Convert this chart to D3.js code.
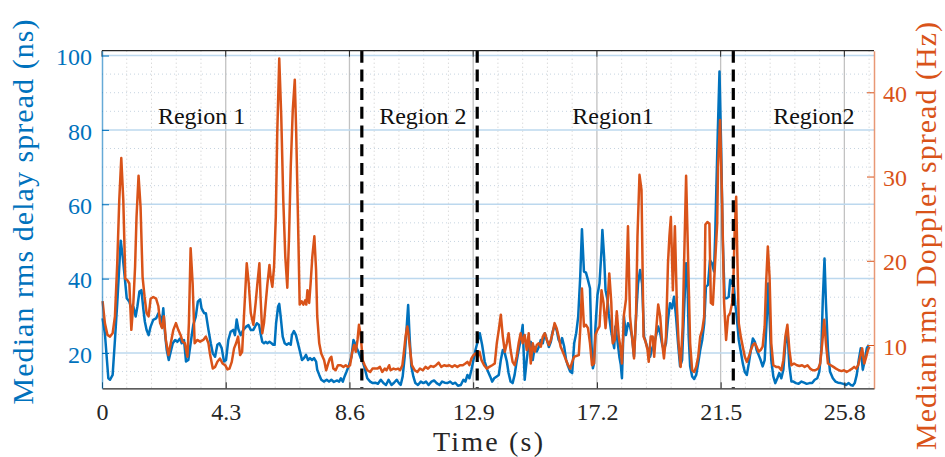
<!DOCTYPE html>
<html>
<head>
<meta charset="utf-8">
<script src="https://cdn.jsdelivr.net/npm/d3@7.9.0/dist/d3.min.js"></script>
<style>
  body { margin: 0; background: #fff; }
  svg { display: block; }
  text { font-family: "Liberation Serif", "Times New Roman", serif; }
</style>
</head>
<body>
<svg id="chart" width="945" height="457"></svg>
<script>
// Axis ticks
const xTicks = [0, 4.3, 8.6, 12.9, 17.2, 21.5, 25.8];
const delayTicks = [20, 40, 60, 80, 100];
const dopplerTicks = [10, 20, 30, 40];

// Region boundaries (s) and labels
const regionBounds = [9.03, 13.04, 21.94];
const regionNames = ['Region 1', 'Region 2', 'Region1', 'Region2'];
const regionCenters = [3.46, 11.15, 17.76, 24.74];

// Median rms delay spread (ns) vs time (s)
const delaySpread = [
  [0.02,29.3],[0.10,25.3],[0.22,13.2],[0.28,12.8],[0.37,14.1],[0.45,23.5],[0.53,33.4],[0.65,50.2],[0.72,45.9],[0.80,39.6],
  [0.86,34.7],[0.95,33.8],[1.03,31.6],[1.09,32.4],[1.17,29.8],[1.23,32.5],[1.30,36.5],[1.37,36.9],[1.44,31.6],[1.49,28.4],
  [1.55,26.2],[1.62,24.8],[1.69,27.1],[1.78,28.9],[1.88,29.3],[1.96,30.7],[2.02,29.8],[2.07,27.1],[2.13,32.0],[2.19,25.3],
  [2.25,20.8],[2.32,18.1],[2.39,20.4],[2.46,22.6],[2.54,23.5],[2.62,23.0],[2.71,23.9],[2.77,22.6],[2.85,23.5],[2.92,17.7],
  [3.00,18.1],[3.08,22.6],[3.17,27.5],[3.26,29.8],[3.33,33.8],[3.41,34.4],[3.46,32.0],[3.55,30.7],[3.61,30.7],[3.70,26.2],
  [3.78,22.6],[3.85,19.9],[3.93,19.0],[4.01,22.2],[4.08,22.6],[4.16,21.3],[4.24,17.7],[4.31,18.1],[4.39,23.5],[4.47,25.7],
  [4.56,26.2],[4.62,24.8],[4.68,29.0],[4.74,26.4],[4.82,24.8],[4.91,26.2],[5.01,27.1],[5.09,27.5],[5.17,26.2],[5.26,26.2],
  [5.38,28.0],[5.46,27.5],[5.51,25.3],[5.57,23.0],[5.63,22.6],[5.69,23.0],[5.75,22.6],[5.82,23.0],[5.89,22.6],[5.95,22.2],
  [6.00,22.2],[6.05,28.0],[6.12,32.5],[6.16,33.2],[6.21,29.8],[6.28,24.4],[6.35,22.6],[6.42,22.2],[6.49,22.6],[6.56,22.2],
  [6.60,24.8],[6.67,25.9],[6.74,24.8],[6.81,22.6],[6.88,20.4],[6.95,18.1],[7.02,18.6],[7.09,19.5],[7.16,18.1],[7.23,18.6],
  [7.30,18.1],[7.37,18.6],[7.44,17.7],[7.48,15.5],[7.55,14.1],[7.62,12.8],[7.72,12.3],[7.81,12.8],[7.89,12.3],[7.97,12.8],
  [8.06,12.2],[8.16,12.6],[8.24,12.3],[8.30,13.2],[8.37,12.3],[8.43,13.7],[8.50,15.0],[8.59,16.8],[8.67,19.0],[8.74,23.5],
  [8.79,22.6],[8.85,21.3],[8.91,20.4],[8.99,18.6],[9.06,17.7],[9.13,15.9],[9.22,13.2],[9.32,12.3],[9.41,11.9],[9.50,12.0],
  [9.59,11.7],[9.69,12.8],[9.78,11.9],[9.87,11.4],[9.96,12.8],[10.06,11.4],[10.15,12.0],[10.24,12.8],[10.32,11.9],[10.38,11.4],
  [10.45,13.7],[10.52,19.0],[10.59,27.1],[10.64,32.9],[10.69,24.4],[10.75,16.4],[10.82,13.7],[10.89,11.9],[10.98,11.4],[11.08,12.3],
  [11.17,11.9],[11.26,12.3],[11.35,11.4],[11.45,12.3],[11.54,12.6],[11.63,11.9],[11.73,11.4],[11.82,12.3],[11.91,12.0],[12.00,11.9],
  [12.10,12.3],[12.19,11.7],[12.28,12.0],[12.37,11.2],[12.47,11.4],[12.56,12.8],[12.63,12.3],[12.70,14.1],[12.77,13.2],[12.84,15.5],
  [12.91,18.1],[12.98,20.8],[13.13,25.3],[13.21,22.2],[13.30,17.7],[13.39,15.5],[13.49,13.7],[13.56,12.3],[13.63,13.2],[13.72,13.7],
  [13.79,14.1],[13.86,18.1],[13.93,20.8],[14.00,19.9],[14.07,17.7],[14.13,14.6],[14.20,12.3],[14.27,11.9],[14.34,14.1],[14.41,17.7],
  [14.48,20.8],[14.55,23.5],[14.62,27.5],[14.69,12.8],[14.76,18.1],[14.83,22.6],[14.90,23.0],[14.97,18.1],[15.04,21.6],[15.11,20.4],
  [15.18,21.6],[15.25,23.5],[15.32,22.6],[15.39,25.3],[15.46,23.5],[15.53,21.6],[15.60,23.0],[15.66,25.7],[15.73,27.5],[15.80,26.2],
  [15.87,23.5],[15.94,22.6],[15.99,24.0],[16.06,21.8],[16.13,18.1],[16.20,16.4],[16.27,15.0],[16.34,14.6],[16.41,22.6],[16.48,25.3],
  [16.55,29.8],[16.62,40.5],[16.68,53.3],[16.75,41.9],[16.82,41.6],[16.89,39.6],[16.96,37.4],[17.01,22.6],[17.06,15.9],[17.10,17.2],
  [17.15,27.1],[17.22,35.6],[17.29,38.7],[17.36,47.7],[17.39,53.1],[17.45,45.9],[17.50,36.9],[17.57,34.2],[17.61,30.7],[17.68,26.6],
  [17.75,23.5],[17.80,21.3],[17.84,27.1],[17.91,23.5],[17.98,19.0],[18.03,16.8],[18.07,13.2],[18.14,29.8],[18.21,24.8],[18.28,28.0],
  [18.35,27.1],[18.42,24.4],[18.49,19.0],[18.56,29.8],[18.63,38.7],[18.70,42.3],[18.77,38.7],[18.84,24.4],[18.91,22.6],[18.98,20.8],
  [19.05,19.0],[19.12,21.3],[19.19,22.6],[19.26,24.8],[19.33,27.1],[19.40,25.3],[19.47,22.2],[19.53,20.8],[19.60,22.6],[19.67,28.9],
  [19.74,33.4],[19.81,32.0],[19.88,35.1],[19.95,29.8],[20.02,22.6],[20.09,16.4],[20.16,18.1],[20.23,31.6],[20.30,44.1],[20.35,38.7],
  [20.39,24.4],[20.44,16.4],[20.51,13.7],[20.58,13.0],[20.65,14.1],[20.72,17.2],[20.79,20.8],[20.86,23.5],[20.93,28.0],[20.99,37.8],
  [21.06,38.3],[21.13,45.0],[21.20,44.1],[21.27,41.9],[21.31,51.3],[21.35,64.0],[21.40,79.1],[21.46,95.7],[21.52,74.6],[21.57,51.3],
  [21.64,34.7],[21.71,34.7],[21.78,35.1],[21.83,39.6],[21.87,38.7],[21.94,40.0],[22.01,33.0],[22.06,29.8],[22.13,23.5],[22.20,20.4],
  [22.27,17.2],[22.34,14.9],[22.41,14.1],[22.48,17.2],[22.55,20.8],[22.62,23.9],[22.69,23.0],[22.75,20.8],[22.82,19.5],[22.89,18.1],
  [22.96,16.4],[23.03,18.1],[23.10,28.9],[23.15,38.7],[23.20,29.8],[23.26,18.1],[23.33,13.7],[23.40,11.9],[23.47,13.2],[23.54,14.6],
  [23.61,13.2],[23.68,15.5],[23.75,22.6],[23.82,26.2],[23.89,16.4],[23.96,12.3],[24.03,12.3],[24.12,11.9],[24.21,11.7],[24.31,12.3],
  [24.40,12.0],[24.49,11.7],[24.59,11.9],[24.68,11.9],[24.77,12.8],[24.86,13.2],[24.93,15.0],[25.00,20.8],[25.05,34.2],[25.11,45.4],
  [25.16,33.4],[25.23,20.8],[25.30,15.0],[25.40,13.2],[25.49,12.3],[25.58,12.0],[25.67,11.9],[25.77,11.7],[25.86,11.4],[25.95,11.9],
  [26.02,11.4],[26.09,11.2],[26.16,11.9],[26.23,14.1],[26.30,18.1],[26.37,21.3],[26.44,15.5],[26.51,18.1],[26.58,21.3],[26.65,22.2]
];

// Median rms Doppler spread (Hz) vs time (s)
const dopplerSpread = [
  [0.02,15.2],[0.10,12.6],[0.19,11.2],[0.28,11.0],[0.37,11.4],[0.45,13.4],[0.53,19.7],[0.60,27.2],[0.67,32.2],[0.74,27.2],
  [0.81,17.9],[0.88,17.7],[0.95,17.3],[1.02,11.8],[1.09,15.0],[1.15,19.3],[1.20,25.2],[1.27,30.1],[1.34,26.4],[1.41,18.1],
  [1.48,15.7],[1.55,13.8],[1.62,13.4],[1.69,15.5],[1.78,15.7],[1.88,15.5],[1.96,14.6],[2.02,12.6],[2.09,12.0],[2.15,13.4],
  [2.22,10.6],[2.31,8.8],[2.39,10.2],[2.48,11.8],[2.57,12.6],[2.65,11.8],[2.73,11.2],[2.80,10.4],[2.88,10.2],[2.97,8.6],
  [3.02,12.6],[3.08,21.5],[3.15,17.3],[3.22,10.2],[3.31,10.6],[3.41,10.4],[3.52,10.6],[3.61,11.0],[3.70,10.2],[3.75,9.0],
  [3.85,7.2],[3.93,7.4],[4.01,8.0],[4.10,8.4],[4.19,7.8],[4.28,7.6],[4.36,7.1],[4.43,7.2],[4.51,8.0],[4.59,9.6],
  [4.66,10.2],[4.73,11.0],[4.80,8.8],[4.87,9.2],[4.94,13.8],[5.03,19.7],[5.10,17.3],[5.17,13.8],[5.26,12.4],[5.34,15.0],
  [5.40,17.3],[5.47,19.7],[5.51,15.7],[5.57,11.4],[5.63,12.6],[5.69,15.0],[5.75,17.3],[5.82,19.5],[5.86,18.1],[5.92,16.9],
  [5.98,19.3],[6.04,25.2],[6.09,35.1],[6.16,44.0],[6.23,37.1],[6.30,27.2],[6.37,20.5],[6.44,16.8],[6.50,22.8],[6.56,31.2],
  [6.63,37.9],[6.70,41.5],[6.75,35.1],[6.81,25.2],[6.87,14.8],[6.94,15.2],[7.00,14.8],[7.06,15.3],[7.10,14.8],[7.14,16.5],
  [7.20,15.0],[7.25,17.3],[7.31,20.5],[7.38,22.9],[7.44,18.9],[7.48,13.4],[7.55,10.2],[7.62,9.0],[7.72,8.2],[7.79,7.0],
  [7.86,7.8],[7.92,8.4],[7.97,8.6],[8.04,7.2],[8.12,7.0],[8.20,7.6],[8.30,7.6],[8.39,7.4],[8.47,7.6],[8.55,7.4],
  [8.62,7.6],[8.70,9.2],[8.76,10.0],[8.82,9.2],[8.88,10.6],[8.93,12.4],[8.99,11.2],[9.06,8.2],[9.13,7.6],[9.22,7.0],
  [9.32,6.8],[9.40,7.2],[9.48,7.2],[9.57,7.2],[9.66,7.4],[9.74,6.8],[9.83,7.2],[9.89,7.0],[9.98,7.6],[10.03,7.0],
  [10.13,7.2],[10.21,7.1],[10.29,7.2],[10.36,7.0],[10.44,7.6],[10.50,9.4],[10.55,11.0],[10.61,12.2],[10.64,11.6],[10.71,9.4],
  [10.77,7.6],[10.87,7.0],[10.96,6.8],[11.05,7.2],[11.15,7.0],[11.24,7.4],[11.33,7.2],[11.42,7.5],[11.52,7.4],[11.61,7.6],
  [11.70,7.9],[11.79,7.4],[11.89,7.6],[11.98,7.5],[12.07,7.6],[12.17,7.4],[12.26,7.6],[12.35,7.4],[12.44,7.6],[12.54,7.6],
  [12.63,7.8],[12.70,8.0],[12.77,7.6],[12.84,8.4],[12.91,8.8],[12.98,9.0],[13.05,8.6],[13.12,9.2],[13.19,8.2],[13.28,7.6],
  [13.37,7.2],[13.46,7.4],[13.56,7.6],[13.65,7.8],[13.72,10.2],[13.79,11.8],[13.86,13.6],[13.93,11.0],[14.00,9.2],[14.07,10.2],
  [14.13,11.4],[14.20,9.4],[14.27,8.0],[14.34,7.6],[14.41,8.6],[14.48,10.2],[14.55,11.4],[14.62,10.2],[14.69,11.2],[14.76,9.4],
  [14.83,11.4],[14.90,7.8],[14.97,10.2],[15.04,9.2],[15.11,10.0],[15.18,10.2],[15.25,9.8],[15.32,11.0],[15.39,11.4],[15.46,10.6],
  [15.53,10.0],[15.60,10.6],[15.66,11.4],[15.73,12.6],[15.80,12.0],[15.87,11.0],[15.94,9.8],[15.99,9.4],[16.06,8.8],[16.13,8.2],
  [16.20,7.6],[16.27,7.2],[16.34,8.0],[16.41,8.6],[16.48,8.7],[16.57,8.8],[16.62,11.8],[16.68,16.7],[16.75,12.2],[16.82,12.4],
  [16.89,12.0],[16.96,10.2],[17.03,7.6],[17.10,7.8],[17.15,11.2],[17.22,11.8],[17.29,12.2],[17.36,16.5],[17.43,15.0],[17.50,12.0],
  [17.57,15.0],[17.63,18.5],[17.70,15.0],[17.75,10.2],[17.82,10.6],[17.89,14.0],[17.96,11.0],[18.03,9.4],[18.07,7.8],[18.14,13.6],
  [18.21,15.4],[18.28,24.1],[18.35,13.4],[18.42,11.0],[18.49,8.4],[18.56,13.4],[18.61,22.9],[18.68,30.2],[18.75,28.4],[18.82,11.0],
  [18.89,10.4],[18.96,9.4],[19.00,8.0],[19.07,11.0],[19.14,11.0],[19.19,8.6],[19.26,11.8],[19.33,14.8],[19.40,13.4],[19.47,10.2],
  [19.53,8.4],[19.60,11.0],[19.67,19.7],[19.72,22.9],[19.77,25.2],[19.84,16.5],[19.91,24.1],[19.98,14.6],[20.04,10.2],[20.11,7.4],
  [20.18,12.2],[20.23,19.7],[20.30,30.1],[20.37,20.1],[20.44,10.2],[20.51,7.0],[20.58,6.8],[20.65,7.4],[20.72,8.6],[20.79,11.0],
  [20.86,11.8],[20.93,13.4],[20.97,24.3],[21.04,24.6],[21.11,24.4],[21.16,15.0],[21.23,14.8],[21.30,19.3],[21.38,24.4],[21.41,31.2],
  [21.48,36.7],[21.55,27.2],[21.62,15.0],[21.69,10.6],[21.76,13.4],[21.83,13.8],[21.90,15.0],[21.94,17.3],[21.99,23.7],[22.04,27.6],
  [22.08,20.5],[22.13,12.6],[22.20,11.0],[22.27,9.8],[22.34,8.6],[22.41,8.0],[22.48,8.6],[22.55,9.4],[22.62,10.0],[22.69,10.2],
  [22.75,9.8],[22.82,9.2],[22.89,9.4],[22.96,9.8],[23.03,12.2],[23.08,17.3],[23.14,21.7],[23.20,18.1],[23.26,10.2],[23.33,7.6],
  [23.43,7.4],[23.52,7.4],[23.61,7.0],[23.68,8.2],[23.75,11.0],[23.82,12.4],[23.89,9.4],[23.96,7.6],[24.05,7.8],[24.15,7.6],
  [24.24,7.5],[24.33,7.6],[24.42,7.4],[24.52,7.6],[24.61,7.2],[24.70,7.0],[24.79,7.0],[24.89,7.2],[24.96,7.8],[25.03,10.2],
  [25.10,13.0],[25.16,10.2],[25.23,7.8],[25.33,7.6],[25.42,7.4],[25.51,7.2],[25.61,7.0],[25.70,6.9],[25.79,7.0],[25.88,6.8],
  [25.98,7.0],[26.07,7.2],[26.14,7.4],[26.21,7.2],[26.28,7.6],[26.35,8.6],[26.42,9.6],[26.49,7.8],[26.56,8.6],[26.62,9.4],
  [26.67,9.8]
];

const blue = '#0072BD';
const orange = '#D95319';
const axisGray = '#262626';

// Plot box
const plotLeft = 102, plotRight = 874, plotTop = 50.7, plotBottom = 388.3;

const svg = d3.select('#chart');

const x = d3.scaleLinear().domain([0, 26.83]).range([plotLeft, plotRight]);
const yDelay = d3.scaleLinear().domain([10.5, 101.3]).range([plotBottom, plotTop]);
const yDoppler = d3.scaleLinear().domain([4.86, 44.94]).range([plotBottom, plotTop]);

// Minor grid (dotted)
const grid = svg.append('g');
const minorX = d3.range(0.86, 26.83, 0.86).filter(t => !xTicks.some(k => Math.abs(k - t) < 0.01));
grid.selectAll('.minor-x')
    .data(minorX)
    .join('line')
    .attr('x1', d => x(d)).attr('x2', d => x(d))
    .attr('y1', plotTop).attr('y2', plotBottom)
    .attr('stroke', '#cbcbcb')
    .attr('stroke-width', 1)
    .attr('stroke-dasharray', '1,3');

const minorY = d3.range(15, 101, 5).filter(v => v % 20 !== 0);
grid.selectAll('.minor-y')
    .data(minorY)
    .join('line')
    .attr('x1', plotLeft).attr('x2', plotRight)
    .attr('y1', d => yDelay(d)).attr('y2', d => yDelay(d))
    .attr('stroke', '#c6d4e1')
    .attr('stroke-width', 1)
    .attr('stroke-dasharray', '1,3');

// Major grid
grid.selectAll('.major-x')
    .data(xTicks.slice(1))
    .join('line')
    .attr('x1', d => x(d)).attr('x2', d => x(d))
    .attr('y1', plotTop).attr('y2', plotBottom)
    .attr('stroke', '#c2c2c2')
    .attr('stroke-width', 1.3);

grid.selectAll('.major-y')
    .data(delayTicks)
    .join('line')
    .attr('x1', plotLeft).attr('x2', plotRight)
    .attr('y1', d => yDelay(d)).attr('y2', d => yDelay(d))
    .attr('stroke', '#bcd8ee')
    .attr('stroke-width', 1.5);

// Series
const delayLine = d3.line().x(d => x(d[0])).y(d => yDelay(d[1]));
const dopplerLine = d3.line().x(d => x(d[0])).y(d => yDoppler(d[1]));

svg.append('path')
    .datum(delaySpread)
    .attr('d', delayLine)
    .attr('fill', 'none')
    .attr('stroke', blue)
    .attr('stroke-width', 2.5)
    .attr('stroke-linejoin', 'round');

svg.append('path')
    .datum(dopplerSpread)
    .attr('d', dopplerLine)
    .attr('fill', 'none')
    .attr('stroke', orange)
    .attr('stroke-width', 2.5)
    .attr('stroke-linejoin', 'round');

// Region boundaries
svg.selectAll('.bound')
    .data(regionBounds)
    .join('line')
    .attr('x1', d => x(d)).attr('x2', d => x(d))
    .attr('y1', plotTop).attr('y2', plotBottom)
    .attr('stroke', '#000')
    .attr('stroke-width', 3.2)
    .attr('stroke-dasharray', '12,6.7');

// Region labels
svg.selectAll('.region')
    .data(regionNames)
    .join('text')
    .attr('x', (d, i) => x(regionCenters[i]))
    .attr('y', yDelay(81.6))
    .attr('text-anchor', 'middle')
    .attr('font-size', 24)
    .attr('fill', '#111')
    .text(d => d);

// Axes
const xAxis = svg.append('g')
    .attr('transform', `translate(0,${plotBottom})`)
    .call(d3.axisBottom(x).tickValues(xTicks).tickFormat(d3.format('')).tickSize(-6).tickSizeOuter(0).tickPadding(15));
xAxis.select('.domain').attr('stroke', axisGray).attr('stroke-width', 1.2);
xAxis.selectAll('.tick line').attr('stroke', axisGray);
xAxis.selectAll('.tick text').attr('font-size', 24).attr('fill', axisGray)
    .attr('font-family', '"Liberation Serif", serif');

// top border with ticks
svg.append('line')
    .attr('x1', plotLeft).attr('x2', plotRight)
    .attr('y1', plotTop).attr('y2', plotTop)
    .attr('stroke', axisGray).attr('stroke-width', 1.2);
svg.selectAll('.top-tick')
    .data(xTicks)
    .join('line')
    .attr('x1', d => x(d)).attr('x2', d => x(d))
    .attr('y1', plotTop).attr('y2', plotTop + 6)
    .attr('stroke', axisGray);

const leftAxis = svg.append('g')
    .attr('transform', `translate(${plotLeft},0)`)
    .call(d3.axisLeft(yDelay).tickValues(delayTicks).tickSize(-7).tickSizeOuter(0).tickPadding(10));
leftAxis.select('.domain').attr('stroke', blue).attr('stroke-opacity', 0.6).attr('stroke-width', 1.5);
leftAxis.selectAll('.tick line').attr('stroke', blue);
leftAxis.selectAll('.tick text').attr('font-size', 24).attr('fill', blue).attr('dy', '0.38em')
    .attr('font-family', '"Liberation Serif", serif');

const rightAxis = svg.append('g')
    .attr('transform', `translate(${plotRight},0)`)
    .call(d3.axisRight(yDoppler).tickValues(dopplerTicks).tickSize(-7).tickSizeOuter(0).tickPadding(9));
rightAxis.select('.domain').attr('stroke', orange).attr('stroke-opacity', 0.6).attr('stroke-width', 1.5);
rightAxis.selectAll('.tick line').attr('stroke', orange);
rightAxis.selectAll('.tick text').attr('font-size', 24).attr('fill', orange).attr('dy', '0.38em')
    .attr('font-family', '"Liberation Serif", serif');

// Axis titles
svg.append('text')
    .attr('x', (plotLeft + plotRight) / 2)
    .attr('y', 451)
    .attr('text-anchor', 'middle')
    .attr('font-size', 28)
    .attr('fill', axisGray)
    .attr('textLength', 110)
    .text('Time (s)');

svg.append('text')
    .attr('transform', 'translate(33,212) rotate(-90)')
    .attr('text-anchor', 'middle')
    .attr('font-size', 30)
    .attr('fill', blue)
    .attr('textLength', 385)
    .text('Median rms delay spread (ns)');

svg.append('text')
    .attr('transform', 'translate(936,236) rotate(-90)')
    .attr('text-anchor', 'middle')
    .attr('font-size', 30)
    .attr('fill', orange)
    .attr('textLength', 428)
    .text('Median rms Doppler spread (Hz)');
</script>
</body>
</html>
